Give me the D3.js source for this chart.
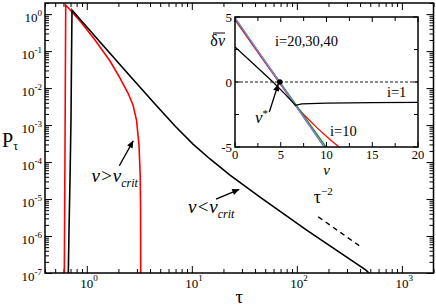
<!DOCTYPE html>
<html>
<head>
<meta charset="utf-8">
<script src="https://cdn.jsdelivr.net/npm/d3@7"></script>
<style>
  body { margin: 0; background: #fff; }
  text { font-family: "Liberation Serif", "DejaVu Serif", serif; fill: #000; }
</style>
</head>
<body>
<svg id="chart" width="436" height="306" font-family="Liberation Serif, DejaVu Serif, serif"></svg>
<script>
// ---- main panel data: P_tau against tau ----
const blackTau = [0.667, 0.677, 0.692, 0.707, 0.715, 0.723, 1.336, 2.58, 4.46, 6.92, 10.26, 14.9, 23.1, 44.6, 124, 455, 486];
const blackP   = [1e-7, 1.45e-6, 3.27e-5, 1.37e-3, 0.0574, 1.29, 0.176, 0.0212, 3.71e-3, 9.42e-4, 3.07e-4, 1.21e-4, 4.46e-5, 1.13e-5, 1.45e-6, 1.2e-7, 1e-7];
const redTau = [0.611, 0.620, 0.630, 0.723, 0.862, 1.197, 1.663, 2.071, 2.468, 2.754, 2.973, 3.141, 3.224, 3.253, 3.26];
const redP   = [1e-7, 2.11e-4, 1.76, 1.14, 0.651, 0.1994, 0.0539, 0.0187, 7.35e-3, 3.48e-3, 1.37e-3, 2.88e-4, 4.45e-5, 5.04e-6, 1e-7];
const guideTau = [160, 408];          // tau^-2 guide
const guideP   = [3.30e-6, 5.07e-7];
const xMajor = [1, 10, 100, 1000];
const yMajor = [1e-7, 1e-6, 1e-5, 1e-4, 1e-3, 1e-2, 1e-1, 1];

// ---- inset data: mean delta v against v ----
const vI1 = [0, 2, 4.15, 5.5, 6.6, 7.3, 10, 15, 20];
const dI1 = [2.7, 1.4, 0, -0.95, -1.8, -1.68, -1.62, -1.58, -1.56];
const vI10 = [0, 3, 5, 6, 6.8, 7.5, 9, 10.5, 11.37];
const dI10 = [4.77, 1.77, -0.2, -1.2, -1.95, -2.5, -3.55, -4.5, -5];
const vI20 = [0, 10.2];
const dI20 = [4.85, -5.25];
const vI30 = [0, 10];
const dI30 = [4.92, -5.25];
const vI40 = [0, 10];
const dI40 = [4.95, -5.25];
const vStar = [4.9, 0];
const insetXTicks = [0, 2.5, 5, 7.5, 10, 12.5, 15, 17.5, 20];
const insetYTicks = [-5, -2.5, 0, 2.5, 5];

const svg = d3.select('#chart');

// ---- main scales ----
const plot = { left: 45, right: 433.5, top: 3, bottom: 273 };
const x = d3.scaleLog().domain([0.4, 2000]).range([plot.left, plot.right]);
const y = d3.scaleLog().domain([1e-7, 2]).range([plot.bottom, plot.top]);

const defs = svg.append('defs');
defs.append('clipPath').attr('id', 'clipMain').append('rect')
  .attr('x', plot.left).attr('y', plot.top)
  .attr('width', plot.right - plot.left).attr('height', plot.bottom - plot.top);
defs.append('marker')
  .attr('id', 'arrow')
  .attr('viewBox', '0 0 10 10')
  .attr('refX', 10).attr('refY', 5)
  .attr('markerWidth', 8).attr('markerHeight', 7)
  .attr('markerUnits', 'userSpaceOnUse')
  .attr('orient', 'auto')
  .append('path').attr('d', 'M0,0.5L10,5L0,9.5Z').attr('fill', '#000');

// ticks: all multiples per decade, longer on the decades
const xMinor = x.ticks().filter(t => !xMajor.includes(t));
const yMinor = y.ticks().filter(t => !yMajor.some(m => Math.abs(m - t) / m < 1e-6));

function tickAxis(axisFn, scale, values, size, transform) {
  const g = svg.append('g')
    .attr('transform', transform)
    .call(axisFn(scale).tickValues(values).tickSize(-size).tickFormat('').tickSizeOuter(0));
  g.select('.domain').remove();
  g.selectAll('line').attr('stroke', '#000').attr('stroke-width', 1);
}
tickAxis(d3.axisBottom, x, xMinor, 4, `translate(0,${plot.bottom})`);
tickAxis(d3.axisBottom, x, xMajor, 7, `translate(0,${plot.bottom})`);
tickAxis(d3.axisTop, x, xMinor, 4, `translate(0,${plot.top})`);
tickAxis(d3.axisTop, x, xMajor, 7, `translate(0,${plot.top})`);
tickAxis(d3.axisLeft, y, yMinor, 4, `translate(${plot.left},0)`);
tickAxis(d3.axisLeft, y, yMajor, 7, `translate(${plot.left},0)`);
tickAxis(d3.axisRight, y, yMinor, 4, `translate(${plot.right},0)`);
tickAxis(d3.axisRight, y, yMajor, 7, `translate(${plot.right},0)`);

// tick labels 10^n
xMajor.forEach(v => {
  const t = svg.append('text')
    .attr('x', x(v) - 6.5).attr('y', plot.bottom + 15)
    .style('font-size', '13px').text('10');
  t.append('tspan').attr('dy', -7).style('font-size', '9px').text(Math.round(Math.log10(v)));
});
yMajor.forEach(v => {
  const t = svg.append('text')
    .attr('x', 42).attr('y', y(v) + 8)
    .attr('text-anchor', 'end')
    .style('font-size', '13px').text('10');
  t.append('tspan').attr('dy', -6).style('font-size', '9px').text(Math.round(Math.log10(v)));
});

// axis titles
const pLab = svg.append('text').attr('x', 2).attr('y', 147).style('font-size', '20px').text('P');
pLab.append('tspan').attr('dy', 3).style('font-size', '12px').text('τ');
svg.append('text').attr('x', (plot.left + plot.right) / 2).attr('y', 303)
  .attr('text-anchor', 'middle').style('font-size', '19px').text('τ');

// curves
const line = d3.line().x(d => x(d[0])).y(d => y(d[1]));
const curves = svg.append('g').attr('clip-path', 'url(#clipMain)');
curves.append('path')
  .datum(redTau.map((t, i) => [t, redP[i]]))
  .attr('d', line).attr('fill', 'none').attr('stroke', '#ff0000').attr('stroke-width', 1.6);
curves.append('path')
  .datum(blackTau.map((t, i) => [t, blackP[i]]))
  .attr('d', line).attr('fill', 'none').attr('stroke', '#000').attr('stroke-width', 1.6);
curves.append('path')
  .datum(guideTau.map((t, i) => [t, guideP[i]]))
  .attr('d', line).attr('fill', 'none').attr('stroke', '#000')
  .attr('stroke-width', 1.4).attr('stroke-dasharray', '5,4');

// frame
svg.append('rect')
  .attr('x', plot.left).attr('y', plot.top)
  .attr('width', plot.right - plot.left).attr('height', plot.bottom - plot.top)
  .attr('fill', 'none').attr('stroke', '#000').attr('stroke-width', 1.5);

// annotations
function critLabel(tau, p, sym) {
  const t = svg.append('text').attr('x', x(tau)).attr('y', y(p))
    .style('font-size', '19px').style('font-style', 'italic').text(`v${sym}v`);
  t.append('tspan').attr('dy', 5).style('font-size', '12px').text('crit');
}
critLabel(1.11, 2.84e-5, '>');
critLabel(9.2, 4.19e-6, '<');
svg.append('line')
  .attr('x1', x(2.04)).attr('y1', y(7.96e-5)).attr('x2', x(2.77)).attr('y2', y(3.77e-4))
  .attr('stroke', '#000').attr('stroke-width', 1.4).attr('marker-end', 'url(#arrow)');
svg.append('line')
  .attr('x1', x(17.0)).attr('y1', y(1.0e-5)).attr('x2', x(28.3)).attr('y2', y(1.83e-5))
  .attr('stroke', '#000').attr('stroke-width', 1.4).attr('marker-end', 'url(#arrow)');
const tauLab = svg.append('text').attr('x', x(145)).attr('y', y(7.6e-6))
  .style('font-size', '18px').text('τ');
tauLab.append('tspan').attr('dy', -8).style('font-size', '11px').text('−2');

// ---- inset ----
const inset = { left: 235, right: 418, top: 17, bottom: 147 };
const ix = d3.scaleLinear().domain([0, 20]).range([inset.left, inset.right]);
const iy = d3.scaleLinear().domain([-5, 5]).range([inset.bottom, inset.top]);

defs.append('clipPath').attr('id', 'clipInset').append('rect')
  .attr('x', inset.left).attr('y', inset.top)
  .attr('width', inset.right - inset.left).attr('height', inset.bottom - inset.top);

svg.append('rect')
  .attr('x', inset.left).attr('y', inset.top)
  .attr('width', inset.right - inset.left).attr('height', inset.bottom - inset.top)
  .attr('fill', '#fff');

const ig = svg.append('g');
insetXTicks.forEach(v => {
  const len = v % 5 === 0 ? 5 : 4;
  ig.append('line').attr('x1', ix(v)).attr('x2', ix(v)).attr('y1', inset.bottom).attr('y2', inset.bottom - len);
  ig.append('line').attr('x1', ix(v)).attr('x2', ix(v)).attr('y1', inset.top).attr('y2', inset.top + len);
  if (v % 5 === 0) {
    svg.append('text').attr('x', ix(v)).attr('y', inset.bottom + 11.5)
      .attr('text-anchor', 'middle').style('font-size', '12.5px').text(v);
  }
});
insetYTicks.forEach(v => {
  const len = v % 5 === 0 ? 5 : 4;
  ig.append('line').attr('y1', iy(v)).attr('y2', iy(v)).attr('x1', inset.left).attr('x2', inset.left + len);
  ig.append('line').attr('y1', iy(v)).attr('y2', iy(v)).attr('x1', inset.right).attr('x2', inset.right - len);
  if (v % 5 === 0) {
    svg.append('text').attr('x', inset.left - 3).attr('y', iy(v) + 4.5)
      .attr('text-anchor', 'end').style('font-size', '13px').text(v === -5 ? '-5' : v);
  }
});
ig.selectAll('line').attr('stroke', '#000').attr('stroke-width', 1);

const iline = d3.line().x(d => ix(d[0])).y(d => iy(d[1]));
const ic = svg.append('g').attr('clip-path', 'url(#clipInset)');
ic.append('line')
  .attr('x1', ix(0)).attr('x2', ix(20)).attr('y1', iy(0)).attr('y2', iy(0))
  .attr('stroke', '#000').attr('stroke-width', 0.9).attr('stroke-dasharray', '3,2');
const insetSeries = [
  [vI10, dI10, '#ff0000'],
  [vI20, dI20, '#00a000'],
  [vI30, dI30, '#3060d0'],
  [vI40, dI40, '#9a7ac8'],
  [vI1, dI1, '#000']
];
insetSeries.forEach(([vs, ds, c]) => {
  ic.append('path')
    .datum(vs.map((v, i) => [v, ds[i]]))
    .attr('d', iline).attr('fill', 'none').attr('stroke', c).attr('stroke-width', 1.3);
});
svg.append('circle').attr('cx', ix(vStar[0])).attr('cy', iy(vStar[1])).attr('r', 2.8).attr('fill', '#000');

svg.append('rect')
  .attr('x', inset.left).attr('y', inset.top)
  .attr('width', inset.right - inset.left).attr('height', inset.bottom - inset.top)
  .attr('fill', 'none').attr('stroke', '#000').attr('stroke-width', 1.5);

// inset labels
svg.append('text').attr('x', ix(4.37)).attr('y', iy(2.77)).style('font-size', '14.5px').text('i=20,30,40');
svg.append('text').attr('x', ix(16.6)).attr('y', iy(-1.12)).style('font-size', '14.5px').text('i=1');
svg.append('text').attr('x', ix(10.38)).attr('y', iy(-4.15)).style('font-size', '14.5px').text('i=10');
svg.append('text').attr('x', (inset.left + inset.right) / 2).attr('y', 175)
  .attr('text-anchor', 'middle').style('font-size', '15px').style('font-style', 'italic').text('v');
const vs = svg.append('text').attr('x', ix(2.19)).attr('y', iy(-3.15))
  .style('font-size', '17px').style('font-style', 'italic').text('v');
vs.append('tspan').attr('dy', -6).style('font-size', '11px').style('font-style', 'normal').text('*');
svg.append('line')
  .attr('x1', ix(3.75)).attr('y1', iy(-2.31)).attr('x2', ix(4.73)).attr('y2', iy(-0.15))
  .attr('stroke', '#000').attr('stroke-width', 1.3).attr('marker-end', 'url(#arrow)');
// overlined delta v
const dv = svg.append('text').attr('x', 225).attr('y', 46).attr('text-anchor', 'end')
  .style('font-size', '16px').text('δ');
dv.append('tspan').style('font-style', 'italic').text('v');
svg.append('line').attr('x1', 213).attr('x2', 225).attr('y1', 33).attr('y2', 33)
  .attr('stroke', '#000').attr('stroke-width', 1);
</script>
</body>
</html>
